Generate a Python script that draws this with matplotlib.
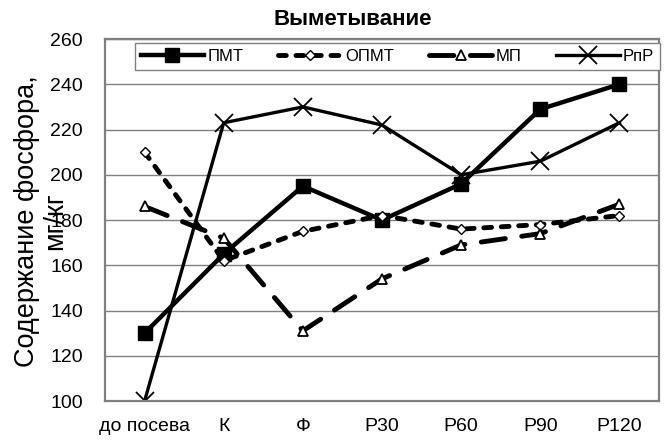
import numpy as np
import matplotlib.pyplot as plt

plt.rcParams['font.family'] = ['Liberation Sans', 'DejaVu Sans']

stages = ["до посева", "К", "Ф", "Р30", "Р60", "Р90", "Р120"]
pmt = [130, 165, 195, 180, 196, 229, 240]
opmt = [210, 162, 175, 182, 176, 178, 182]
mp = [186, 172, 131, 154, 169, 174, 187]
rpr = [100, 223, 230, 222, 200, 206, 223]

x = np.arange(len(stages))

fig = plt.figure(figsize=(6.68, 4.43), dpi=100)
ax = fig.add_axes([0.1572, 0.0948, 0.8293, 0.817])

ax.plot(x, pmt, color='black', lw=3.2, marker='s', ms=10, label='ПМТ')
ax.plot(x, opmt, color='black', lw=3.5, ls=(0, (1.6, 2.0)), dash_capstyle='round',
        marker='D', ms=5, mfc='white', mec='black', mew=1, label='ОПМТ')
ax.plot(x, mp, color='black', lw=3.5, ls=(0, (5, 3.4)), dash_capstyle='round',
        marker='^', ms=7, mfc='white', mec='black', mew=1.3, label='МП')
ax.plot(x, rpr, color='black', lw=2.4, marker='x', ms=13, mew=1.3, label='РпР')

ax.set_xlim(-0.5, len(stages) - 0.5)
ax.set_ylim(100, 260)
ax.set_yticks(np.arange(100, 261, 20))
ax.set_xticks(x)
ax.set_xticklabels(stages)
ax.tick_params(axis='both', labelsize=14, length=0)
ax.tick_params(axis='y', pad=16)
ax.tick_params(axis='x', pad=12)

ax.grid(axis='y', color='#808080', lw=1)
ax.set_axisbelow(True)
for s in ax.spines.values():
    s.set_color('#808080')
    s.set_linewidth(1.6)

fig.text(353 / 668, 1 - 19.5 / 443, 'Выметывание', fontsize=16,
         fontweight='bold', ha='center', va='center')
fig.text(41 / 668, 1 - 221 / 443, 'Содержание фосфора,\nмг/кг', fontsize=19.5,
         rotation=90, ha='center', va='center', multialignment='center',
         linespacing=1.1)

leg = ax.legend(loc='upper left', ncol=4, fontsize=12, frameon=True,
                fancybox=False, edgecolor='#808080', handlelength=3.8,
                bbox_to_anchor=(0.054, 0.909, 0.948, 0.08), mode='expand',
                borderaxespad=0, borderpad=0.35, handletextpad=0.2)
leg.get_frame().set_linewidth(1)
leg.get_frame().set_alpha(1)

fig.savefig('out.png', dpi=100)
